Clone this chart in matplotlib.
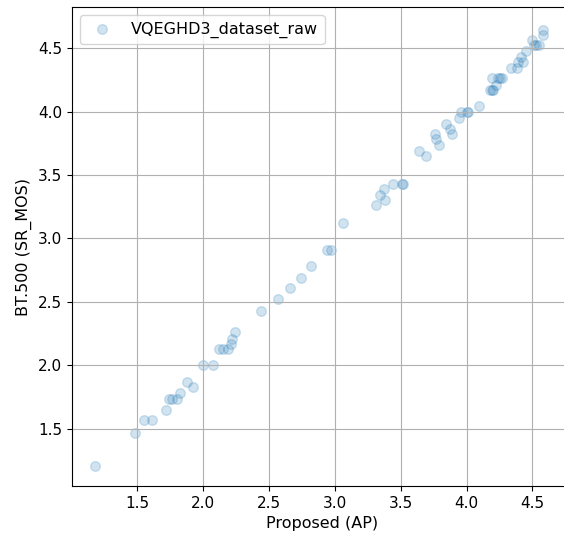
import matplotlib
matplotlib.use("Agg")
import matplotlib.pyplot as plt

# Proposed (AP) vs BT.500 (SR_MOS)
ap = [1.18, 1.48, 1.55, 1.61, 1.72, 1.74, 1.76, 1.80, 1.82, 1.88, 1.92,
      2.00, 2.07, 2.12, 2.15, 2.19, 2.21, 2.22, 2.24, 2.44, 2.57, 2.66,
      2.74, 2.82, 2.94, 2.97, 3.06, 3.31, 3.34, 3.37, 3.38, 3.44, 3.51,
      3.52, 3.64, 3.69, 3.76, 3.77, 3.79, 3.84, 3.87, 3.89, 3.94, 3.96,
      4.00, 4.01, 4.09, 4.18, 4.19, 4.20, 4.19, 4.22, 4.24, 4.25, 4.27,
      4.34, 4.38, 4.39, 4.41, 4.43, 4.45, 4.50, 4.51, 4.53, 4.55, 4.58,
      4.58]
mos = [1.21, 1.47, 1.57, 1.57, 1.65, 1.74, 1.74, 1.74, 1.78, 1.87, 1.83,
       2.00, 2.00, 2.13, 2.13, 2.13, 2.17, 2.21, 2.26, 2.43, 2.52, 2.61,
       2.69, 2.78, 2.91, 2.91, 3.12, 3.26, 3.34, 3.39, 3.30, 3.43, 3.43,
       3.43, 3.69, 3.65, 3.82, 3.78, 3.74, 3.90, 3.86, 3.82, 3.95, 4.00,
       4.00, 4.00, 4.04, 4.17, 4.17, 4.17, 4.26, 4.21, 4.26, 4.26, 4.26,
       4.34, 4.34, 4.39, 4.43, 4.39, 4.48, 4.56, 4.52, 4.52, 4.52, 4.60,
       4.64]

fig = plt.figure(figsize=(5.64, 5.37), dpi=100)
W, H = 564, 537
# axes runs a bit past the right edge (reference is cropped there)
ax = fig.add_axes([72 / W, (H - 486) / H, (572 - 72) / W, (486 - 7) / H])

ax.scatter(ap, mos, s=48, alpha=0.2, label='VQEGHD3_dataset_raw')
ax.set_xlim(1.003, 4.80)
ax.set_ylim(1.051, 4.823)
ax.set_xticks([1.5, 2.0, 2.5, 3.0, 3.5, 4.0, 4.5])
ax.set_yticks([1.5, 2.0, 2.5, 3.0, 3.5, 4.0, 4.5])
ax.tick_params(labelsize=11)
ax.set_xlabel('Proposed (AP)', fontsize=11.5)
ax.set_ylabel('BT.500 (SR_MOS)', fontsize=11.5)
ax.grid(True)
ax.legend(loc='upper left', fontsize=11.5)

fig.savefig('out.png', dpi=100)
